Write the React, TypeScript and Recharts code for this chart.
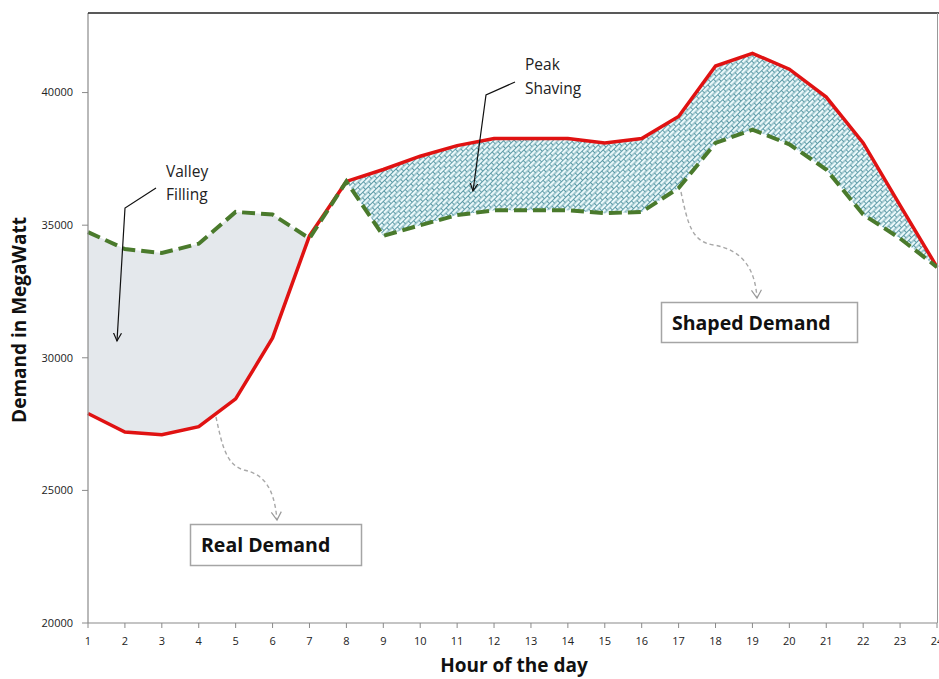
import React from 'react';
import { ComposedChart, Area, Line, XAxis, YAxis } from 'recharts';

const hours = [1, 2, 3, 4, 5, 6, 7, 8, 9, 10, 11, 12, 13, 14, 15, 16, 17, 18, 19, 20, 21, 22, 23, 24];
const realDemand = [27900, 27200, 27100, 27400, 28450, 30750, 34600, 36650, 37100, 37600, 38000, 38270, 38270, 38270, 38100, 38270, 39100, 41000, 41480, 40880, 39830, 38100, 35750, 33420];
const shapedDemand = [34740, 34100, 33950, 34300, 35500, 35400, 34500, 36650, 34600, 35000, 35380, 35560, 35560, 35560, 35450, 35500, 36400, 38100, 38600, 38050, 37100, 35400, 34500, 33420];
const valleyHours = [1, 2, 3, 4, 5, 6, 7];
const peakHours = [8, 9, 10, 11, 12, 13, 14, 15, 16, 17, 18, 19, 20, 21, 22, 23, 24];
const yTicks = [20000, 25000, 30000, 35000, 40000];

const data = hours.map((h, i) => ({
  hour: h,
  real: realDemand[i],
  shaped: shapedDemand[i],
  valley: valleyHours.includes(h) ? [realDemand[i], shapedDemand[i]] : null,
  peak: peakHours.includes(h) ? [shapedDemand[i], realDemand[i]] : null,
}));

const FONT = "'Open Sans', 'Noto Sans', sans-serif";

export default function App() {
  return (
    <div style={{ position: 'absolute', left: 0, top: 0, width: 939, height: 679, background: '#fff', overflow: 'hidden' }}>
      <ComposedChart width={939} height={679} data={data} margin={{ top: 13, right: 2, left: 0, bottom: 0 }}>
        <defs>
          <pattern id="brick" patternUnits="userSpaceOnUse" width="8" height="7" patternTransform="rotate(-45)">
            <rect x="0" y="0" width="8" height="7" fill="#eaf8fa" />
            <path d="M0,0.5 H8 M0,4 H8 M0.5,0.5 V4 M4.5,4 V7.5" stroke="#4f929f" strokeWidth="0.9" fill="none" />
          </pattern>
        </defs>
        <XAxis
          dataKey="hour"
          type="number"
          domain={[1, 24]}
          ticks={hours}
          interval={0}
          height={56}
          tickSize={5}
          tickMargin={9}
          axisLine={{ stroke: '#8a8a8a', strokeWidth: 1.2 }}
          tickLine={{ stroke: '#8a8a8a' }}
          tick={{ fill: '#222', fontSize: 11, fontFamily: FONT }}
        />
        <YAxis
          type="number"
          domain={[20000, 43000]}
          ticks={yTicks}
          width={88}
          tickSize={6}
          tickMargin={9}
          allowDataOverflow
          axisLine={{ stroke: '#8a8a8a', strokeWidth: 1.2 }}
          tickLine={{ stroke: '#8a8a8a' }}
          tick={{ fill: '#222', fontSize: 11, fontFamily: FONT }}
        />
        <Area
          dataKey="valley"
          type="linear"
          stroke="none"
          fill="#e4e8ec"
          fillOpacity={1}
          isAnimationActive={false}
          connectNulls={false}
          activeDot={false}
        />
        <Area
          dataKey="peak"
          type="linear"
          stroke="none"
          fill="url(#brick)"
          fillOpacity={1}
          isAnimationActive={false}
          connectNulls={false}
          activeDot={false}
        />
        <Line
          dataKey="real"
          type="linear"
          stroke="#e01212"
          strokeWidth={3.5}
          dot={false}
          activeDot={false}
          isAnimationActive={false}
        />
        <Line
          dataKey="shaped"
          type="linear"
          stroke="#4a7a2c"
          strokeWidth={4}
          strokeDasharray="13 6"
          dot={false}
          activeDot={false}
          isAnimationActive={false}
        />
      </ComposedChart>
      <svg
        width={939}
        height={679}
        style={{ position: 'absolute', left: 0, top: 0, pointerEvents: 'none' }}
        fontFamily={FONT}
      >
        <defs>
          <marker id="blackArrow" markerWidth="10" markerHeight="10" refX="8" refY="5" orient="auto" markerUnits="userSpaceOnUse">
            <path d="M0,1 L8,5 L0,9" fill="none" stroke="#111" strokeWidth="1.2" />
          </marker>
          <marker id="grayArrow" markerWidth="12" markerHeight="12" refX="9" refY="6" orient="auto" markerUnits="userSpaceOnUse">
            <path d="M1,1 L9,6 L1,11" fill="none" stroke="#999" strokeWidth="1.2" />
          </marker>
        </defs>
        {/* plot frame top and right */}
        <line x1={88} y1={13} x2={939} y2={13} stroke="#222" strokeWidth={1.5} />
        <line x1={937.5} y1={13} x2={937.5} y2={623} stroke="#999" strokeWidth={1} />

        {/* axis titles */}
        <text x={514} y={672} textAnchor="middle" fontSize={19} fontWeight="bold" fill="#111">Hour of the day</text>
        <text x={26} y={320} textAnchor="middle" fontSize={19} fontWeight="bold" fill="#111" transform="rotate(-90 26 320)">Demand in MegaWatt</text>

        {/* Valley Filling callout */}
        <text x={166} y={177} fontSize={15.5} fill="#222">Valley</text>
        <text x={166} y={200} fontSize={15.5} fill="#222">Filling</text>
        <polyline points="156,188 125,208 117,341" fill="none" stroke="#111" strokeWidth={1.2} markerEnd="url(#blackArrow)" />

        {/* Peak Shaving callout */}
        <text x={525} y={70} fontSize={15.5} fill="#222">Peak</text>
        <text x={525} y={94} fontSize={15.5} fill="#222">Shaving</text>
        <polyline points="515,82 486,95 473,191" fill="none" stroke="#111" strokeWidth={1.2} markerEnd="url(#blackArrow)" />

        {/* Real Demand callout */}
        <path d="M216,417 C222,445 226,465 244,470 C262,474 274,485 277,520" fill="none" stroke="#a8a8a8" strokeWidth={1.4} strokeDasharray="4 3" markerEnd="url(#grayArrow)" />
        <rect x={190.5} y={524.5} width={171} height={41} fill="#fff" stroke="#a5a5a5" strokeWidth={1.5} />
        <text x={201} y={552} fontSize={19.5} fontWeight="bold" fill="#111">Real Demand</text>

        {/* Shaped Demand callout */}
        <path d="M681,192 C688,225 692,242 714,245 C742,250 755,268 757,298" fill="none" stroke="#a8a8a8" strokeWidth={1.4} strokeDasharray="4 3" markerEnd="url(#grayArrow)" />
        <rect x={661.5} y={302.5} width={196} height={40} fill="#fff" stroke="#a5a5a5" strokeWidth={1.5} />
        <text x={672} y={330} fontSize={19.5} fontWeight="bold" fill="#111">Shaped Demand</text>
      </svg>
    </div>
  );
}
